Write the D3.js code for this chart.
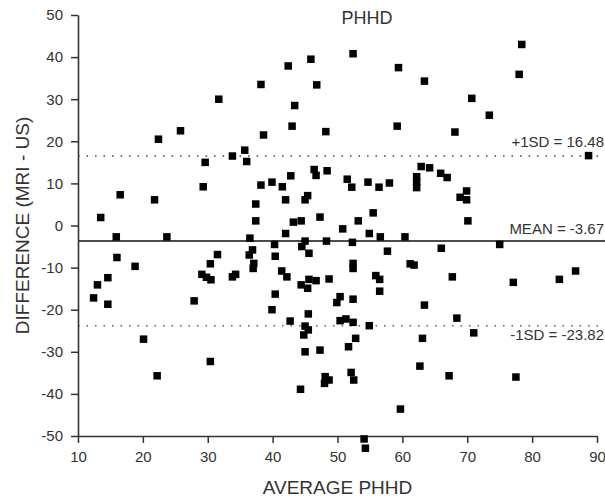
<!DOCTYPE html>
<html>
<head>
<meta charset="utf-8">
<script src="https://cdn.jsdelivr.net/npm/d3@7"></script>
<style>
  body { margin: 0; background: #fff; }
  text { font-family: "Liberation Sans", Arial, sans-serif; fill: #333; }
</style>
</head>
<body>
<div id="chart-area"></div>
<script>
// average PHHD (x) and difference MRI - US (y)
var avgPHHD = [22.4, 25.8, 31.7, 29.6, 33.8, 35.7, 36.0, 38.2, 42.4, 45.9, 46.8, 43.4, 43.0, 38.6, 48.2, 52.4, 59.4, 59.2, 63.4, 78.4,
  78.0, 70.7, 73.4, 68.1, 88.7,
  29.3, 16.5, 21.8, 13.5, 15.9, 23.7, 16.0, 18.8, 14.6, 13.0, 12.4, 14.6, 27.9, 31.5, 30.4, 29.1, 29.8, 30.5, 33.8, 34.3,
  46.4, 46.7, 48.4, 42.8, 38.2, 39.9, 41.5, 51.5, 52.2, 54.7, 56.4, 58.0, 45.4, 45.0, 42.0, 37.4, 37.4, 43.2, 44.4, 47.3,
  55.5, 53.2, 50.8, 42.0, 54.9, 56.6, 60.4, 36.5, 40.3, 45.0, 44.5, 48.3, 52.3, 36.9, 36.4, 45.6, 57.7, 40.4, 37.1, 37.0,
  61.2, 61.8, 52.4, 52.4, 41.4, 42.2, 48.7, 45.6, 46.7, 44.4, 45.4, 55.9, 56.5, 56.5, 40.4, 50.4, 49.9, 52.4, 39.9, 45.5,
  42.7, 50.4, 51.3, 52.4,
  62.9, 64.2, 62.2, 62.2, 62.2, 65.9, 66.9, 69.9, 68.9, 69.9, 70.1, 75.0, 66.0, 67.7, 77.1, 84.2, 86.7, 63.4, 68.4,
  20.1, 22.2, 30.4, 45.0, 45.5, 44.8, 54.9, 52.8, 51.7, 45.0, 47.3, 52.1, 52.5, 48.1, 48.7, 48.0, 44.3, 59.7, 54.1, 54.3,
  71.0, 63.1, 62.7, 67.2, 77.5];
var diffMRIUS = [20.5, 22.5, 30.0, 15.0, 16.5, 17.9, 15.2, 33.5, 37.9, 39.5, 33.4, 28.5, 23.6, 21.5, 22.3, 40.8, 37.5, 23.6, 34.3, 43.0,
  35.9, 30.2, 26.2, 22.2, 16.6,
  9.2, 7.3, 6.1, 1.9, -2.7, -2.7, -7.6, -9.7, -12.4, -14.1, -17.2, -18.7, -17.9, -6.9, -9.1, -11.6, -12.3, -12.9, -12.2, -11.6,
  13.3, 11.9, 13.0, 11.8, 9.6, 10.3, 9.2, 11.0, 9.1, 10.3, 9.1, 10.1, 7.1, 6.1, 6.1, 5.1, 1.1, 0.8, 1.1, 2.0,
  3.0, 1.1, -0.8, -1.9, -1.9, -2.7, -2.7, -3.0, -4.5, -3.7, -5.0, -3.7, -4.0, -5.8, -7.0, -6.6, -6.1, -7.3, -9.0, -10.2,
  -9.1, -9.4, -9.0, -10.2, -10.8, -12.2, -12.7, -12.8, -13.1, -14.1, -14.9, -11.9, -12.8, -15.6, -16.3, -16.9, -18.3, -17.5, -20.0, -21.0,
  -22.7, -22.6, -22.2, -23.0,
  14.0, 13.7, 11.6, 10.3, 9.0, 12.4, 11.4, 8.2, 6.7, 6.1, 1.1, -4.5, -5.4, -12.2, -13.5, -12.8, -10.8, -18.9, -22.0,
  -27.0, -35.7, -32.3, -23.9, -24.8, -26.0, -23.8, -26.8, -28.8, -30.0, -29.6, -34.9, -36.7, -35.9, -36.7, -37.5, -38.9, -43.6, -50.7, -52.9,
  -25.5, -26.8, -33.4, -35.7, -36.0];

var refValues = [16.48, -3.67, -23.82];
var refLabels = ["+1SD = 16.48", "MEAN = -3.67", "-1SD = -23.82"];
var xTicks = [10, 20, 30, 40, 50, 60, 70, 80, 90];
var yTicks = [50, 40, 30, 20, 10, 0, -10, -20, -30, -40, -50];

var width = 605;
var height = 500;

var svg = d3.select("#chart-area")
  .append("svg")
    .attr("width", width)
    .attr("height", height);

var x = d3.scaleLinear().domain([10, 90]).range([78, 597]);
var y = d3.scaleLinear().domain([-50, 50]).range([436, 15]);

// reference lines: dotted for +/-1SD, solid for the mean
refValues.forEach(function(v, i) {
  svg.append("line")
    .attr("x1", x(10))
    .attr("x2", width)
    .attr("y1", y(v))
    .attr("y2", y(v))
    .attr("stroke", i == 1 ? "#111" : "#666")
    .attr("stroke-width", i == 1 ? 1.5 : 1.6)
    .attr("stroke-dasharray", i == 1 ? null : "1.6,6.9");
});

var labelOffset = [-9, -7, 14];
svg.selectAll(".ref-label")
  .data(refLabels)
  .enter().append("text")
    .attr("class", "ref-label")
    .attr("x", 604)
    .attr("y", function(d, i) { return y(refValues[i]) + labelOffset[i]; })
    .attr("text-anchor", "end")
    .attr("font-size", "15px")
    .text(function(d) { return d; });

// axes (plain hyphen for negatives, like the original)
var fmt = function(d) { return String(d); };

var xAxis = svg.append("g")
  .attr("transform", "translate(0," + y(-50) + ")")
  .call(d3.axisBottom(x).tickValues(xTicks).tickFormat(fmt).tickSize(7).tickSizeOuter(0).tickPadding(8));

var yAxis = svg.append("g")
  .attr("transform", "translate(" + x(10) + ",0)")
  .call(d3.axisLeft(y).tickValues(yTicks).tickFormat(fmt).tickSize(7).tickSizeOuter(0).tickPadding(8));

[xAxis, yAxis].forEach(function(a) {
  a.select(".domain").attr("stroke", "#333").attr("stroke-width", 1.6);
  a.selectAll(".tick line").attr("stroke", "#333").attr("stroke-width", 1.5);
  a.selectAll(".tick text")
    .attr("font-size", "15px")
    .attr("font-family", "Liberation Sans, Arial, sans-serif")
    .attr("fill", "#333");
});

// points
var pts = avgPHHD.map(function(v, i) { return {a: v, d: diffMRIUS[i]}; });
var size = 7.5;
svg.selectAll(".pt")
  .data(pts)
  .enter().append("rect")
    .attr("class", "pt")
    .attr("x", function(d) { return x(d.a) - size / 2; })
    .attr("y", function(d) { return y(d.d) - size / 2; })
    .attr("width", size)
    .attr("height", size)
    .attr("fill", "#000");

// titles
svg.append("text")
  .attr("x", 367)
  .attr("y", 24)
  .attr("text-anchor", "middle")
  .attr("font-size", "18px")
  .text("PHHD");

svg.append("text")
  .attr("x", x(50))
  .attr("y", 494)
  .attr("text-anchor", "middle")
  .attr("font-size", "19px")
  .text("AVERAGE PHHD");

svg.append("text")
  .attr("transform", "translate(28.5," + y(0) + ") rotate(-90)")
  .attr("text-anchor", "middle")
  .attr("font-size", "19px")
  .text("DIFFERENCE (MRI - US)");
</script>
</body>
</html>
